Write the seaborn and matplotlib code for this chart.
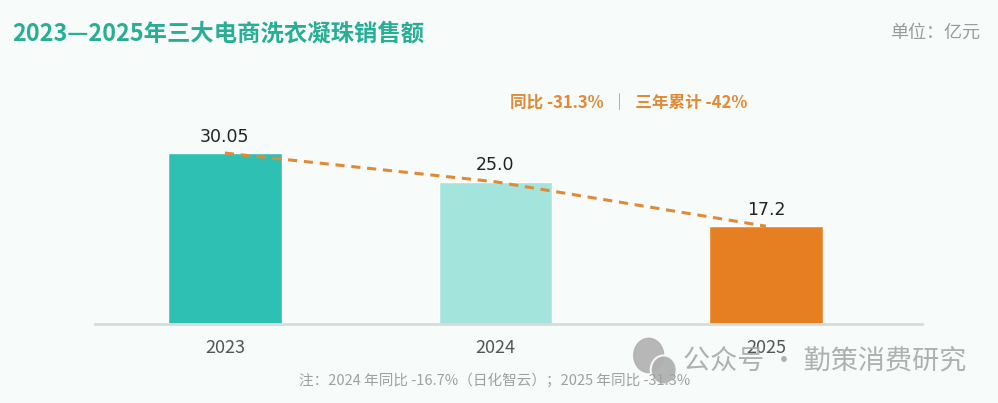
import matplotlib
matplotlib.use('Agg')
import matplotlib.pyplot as plt
import seaborn as sns
import pandas as pd
from matplotlib.patches import Ellipse

years = ['2023', '2024', '2025']
sales = [30.05, 25.0, 17.2]
value_labels = ['30.05', '25.0', '17.2']
bar_colors = ['#2EC1B3', '#A3E4DC', '#E67F22']

title = '2023—2025年三大电商洗衣凝珠销售额'
unit = '单位：亿元'
summary = '同比 -31.3%  ｜  三年累计 -42%'
note = '注：2024 年同比 -16.7%（日化智云）；2025 年同比 -31.3%'
watermark = '公众号 · 勤策消费研究'

sns.set_theme(style='white')
plt.rcParams['font.family'] = ['Noto Sans CJK SC', 'DejaVu Sans']

bg = '#F7FBFA'
df = pd.DataFrame({'year': years, 'sales': sales})

fig = plt.figure(figsize=(9.98, 4.03), dpi=100, facecolor=bg)
ax = fig.add_axes([0.0952, 0.196, 0.8287, 0.655])
ax.set_facecolor(bg)

sns.barplot(data=df, x='year', y='sales', hue='year', palette=bar_colors,
            legend=False, width=0.42, saturation=1, ax=ax)

# trend line through bar tops
ax.plot(range(len(years)), sales, linestyle=(0, (3, 2.2)), color='#E08A38',
        linewidth=2.2, zorder=5)

for i, (v, lab) in enumerate(zip(sales, value_labels)):
    ax.text(i, v + 1.3, lab, ha='center', va='bottom', fontsize=12.5,
            color='#222222', family=['DejaVu Sans'])

ax.set_xlim(-0.48, 2.577)
ax.set_ylim(0, 46.4)
ax.set_xlabel('')
ax.set_ylabel('')
ax.set_yticks([])
ax.tick_params(axis='x', length=0, pad=11, labelsize=13, labelcolor='#555555')
for s in ['top', 'right', 'left']:
    ax.spines[s].set_visible(False)
ax.spines['bottom'].set_color('#D6DCDB')
ax.spines['bottom'].set_linewidth(2)

fig.text(0.012, 0.918, title, fontsize=16.8, fontweight='bold', color='#27AE94',
         va='center', ha='left')
fig.text(0.982, 0.918, unit, fontsize=13, color='#9A9A9A', va='center', ha='right')
fig.text(0.511, 0.745, summary, fontsize=12, fontweight='bold', color='#E08A38',
         va='center', ha='left')
fig.text(0.496, 0.057, note, fontsize=10.5, color='#A0A0A0', va='center', ha='center')

# watermark
fig.text(0.684, 0.102, watermark, fontsize=19.5, color='#A8A8A8', alpha=0.9,
         va='center', ha='left')
fig.patches.append(Ellipse((0.650, 0.118), 0.030, 0.085, transform=fig.transFigure,
                           color='#B0B0B0', alpha=0.9))
fig.patches.append(Ellipse((0.665, 0.082), 0.026, 0.072, transform=fig.transFigure,
                           color='#B0B0B0', alpha=0.95, ec=bg, lw=1.5))

fig.savefig('out.png', dpi=100, facecolor=bg)
